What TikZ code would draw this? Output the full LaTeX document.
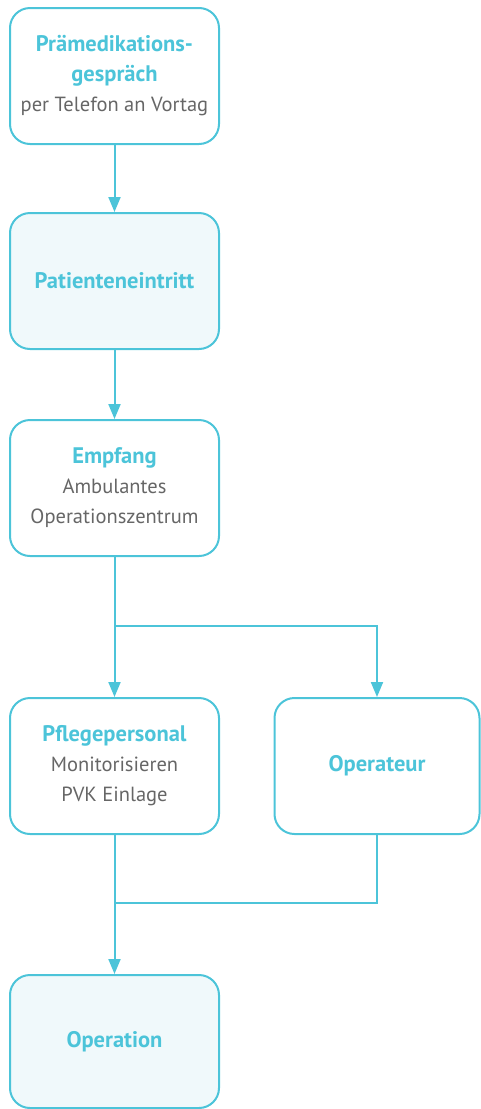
\documentclass[tikz,border=0pt]{standalone}
\usepackage{fontspec}
\setmainfont{PT Sans}
\usetikzlibrary{arrows.meta}
\definecolor{cy}{HTML}{4CC4D9}
\definecolor{lf}{HTML}{F0F9FB}
\definecolor{tg}{HTML}{666666}
\tikzset{
  box/.style={draw=cy, line width=2pt, rounded corners=20pt, minimum width=209pt, minimum height=136pt, align=center, font=\fontsize{20.5}{30}\selectfont, text=tg, inner sep=0pt},
  lbox/.style={box, fill=lf},
  conn/.style={draw=cy, line width=2pt},
  arr/.style={conn, -{Triangle[length=15pt,width=12pt]}}
}
\newcommand{\ti}[1]{{\fontsize{22.5}{30}\selectfont\bfseries\color{cy}#1}}
\begin{document}
\begin{tikzpicture}[x=1pt,y=-1pt]
\useasboundingbox (0,0) rectangle (480,1109);
\node[box] (a) at (114.5,76) {\ti{Prämedikations-}\\\ti{gespräch}\\per Telefon an Vortag};
\node[lbox] (b) at (114.5,281) {\ti{Patienteneintritt}};
\node[box] (c) at (114.5,488) {\ti{Empfang}\\Ambulantes\\Operationszentrum};
\node[box] (d) at (114.5,766) {\ti{Pflegepersonal}\\Monitorisieren\\PVK Einlage};
\node[box, minimum width=205pt] (e) at (377,766) {\ti{Operateur}};
\node[lbox, minimum height=133pt] (f) at (114.5,1041.5) {\ti{Operation}};
\coordinate (s) at (114.5,626);
\coordinate (j) at (114.5,903);
\draw[arr] (a) -- (b);
\draw[arr] (b) -- (c);
\draw[conn] (c) -- (s);
\draw[arr] (s) -- (d);
\draw[arr] (s) -| (e);
\draw[conn] (d) -- (j);
\draw[conn] (e) |- (j);
\draw[arr] (j) -- (f);
\end{tikzpicture}
\end{document}
